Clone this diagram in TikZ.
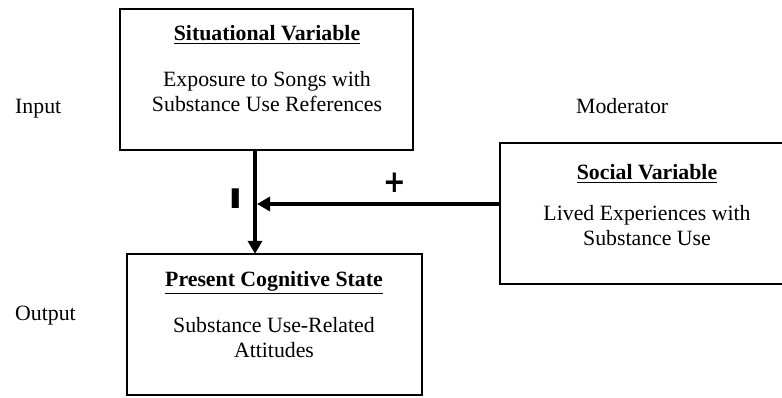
\documentclass[tikz,border=0pt]{standalone}
\usepackage{fontspec}
\setmainfont{Liberation Serif}
\newfontfamily\signfont{DejaVu Sans}
\usetikzlibrary{arrows.meta}
\begin{document}
\begin{tikzpicture}[x=1pt,y=-1pt,
  box/.style={draw=black,line width=2.2pt,inner sep=0pt,minimum width=#1},
  txt/.style={anchor=base,inner sep=0pt,font=\fontsize{21.8}{25}\selectfont},
  ttl/.style={anchor=base,inner sep=0pt,font=\fontsize{21.8}{25}\selectfont\bfseries},
  conn/.style={line width=4pt,-{Triangle[length=13pt,width=14pt]}},
  sign/.style={inner sep=0pt,font=\signfont\bfseries\fontsize{27}{27}\selectfont}]
\useasboundingbox (0,0) rectangle (782,398);
% boxes
\node[box=293pt,minimum height=141pt] (sit) at (266.5,79.5) {};
\node[box=295pt,minimum height=141pt] (cog) at (274.5,324.5) {};
\node[box=294pt,minimum height=141pt] (soc) at (647,213.5) {};
% top box text
\node[ttl] (sitT) at (267,41) {\underline{Situational Variable}};
\node[txt] (sitA) at (267,87) {Exposure to Songs with};
\node[txt] (sitB) at (267,112) {Substance Use References};
% right box text
\node[ttl] (socT) at (647,180) {\underline{Social Variable}};
\node[txt] (socA) at (647,221) {Lived Experiences with};
\node[txt] (socB) at (647,246) {Substance Use};
% bottom box text
\node[ttl] (cogT) at (274,287) {\underline{Present Cognitive State}};
\node[txt] (cogA) at (274,332) {Substance Use-Related};
\node[txt] (cogB) at (274,357) {Attitudes};
% side labels
\node[txt,anchor=base west] (inp) at (15,114) {Input};
\node[txt,anchor=base west] (out) at (15,320) {Output};
\node[txt,anchor=base west] (mod) at (576,114) {Moderator};
% connectors
\coordinate (vx) at (255,0);
\coordinate (hy) at (0,204);
\draw[conn] (sit.south -| vx) -- ([yshift=-1pt]cog.north -| vx);
\draw[conn] (soc.west |- hy) -- ([xshift=2pt]vx |- hy);
\node[sign] (minus) at (235.5,199) {\scalebox{1.4}[1]{I}};
\node[sign] (plus) at (395,183) {\scalebox{1}[1.15]{+}};
\end{tikzpicture}
\end{document}
